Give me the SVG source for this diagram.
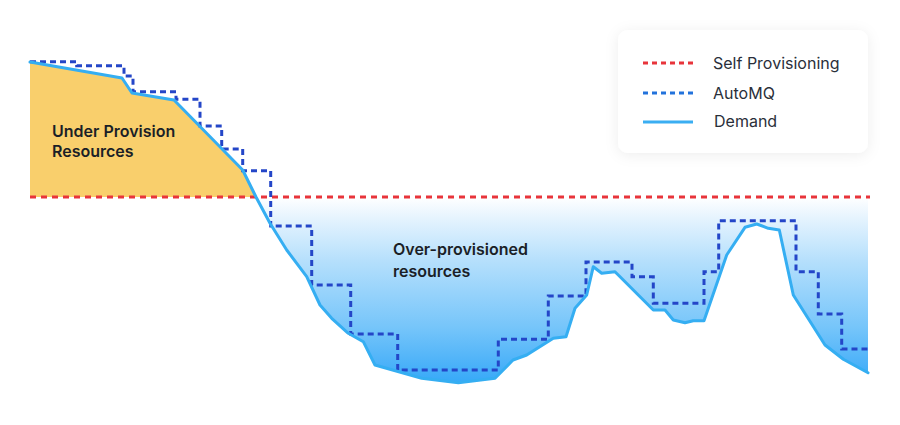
<svg xmlns="http://www.w3.org/2000/svg" width="900" height="425" viewBox="0 0 900 425">
  <defs>
    <linearGradient id="overGrad" gradientUnits="userSpaceOnUse" x1="0" y1="197" x2="0" y2="383">
      <stop offset="0" stop-color="#ffffff"/>
      <stop offset="0.12" stop-color="#e4f3fe"/>
      <stop offset="0.35" stop-color="#b4dffc"/>
      <stop offset="0.7" stop-color="#76c5fa"/>
      <stop offset="1" stop-color="#36a8f8"/>
    </linearGradient>
    <filter id="shadow" x="-20%" y="-30%" width="140%" height="160%">
      <feDropShadow dx="0" dy="2" stdDeviation="7" flood-color="#000000" flood-opacity="0.07"/>
    </filter>
  </defs>
  <style>
    .demand { fill: none; stroke: #35aef2; stroke-width: 3; stroke-linejoin: round; stroke-linecap: round; }
    .automq { fill: none; stroke: #2446c8; stroke-width: 3; stroke-dasharray: 6 4; }
    .self { fill: none; stroke: #e8343b; stroke-width: 3; stroke-dasharray: 6 5; }
    .label { font-family: Inter, "Liberation Sans", sans-serif; font-size: 16px; font-weight: 600; fill: #1b1f27; }
    .legend-text { font-family: Inter, "Liberation Sans", sans-serif; font-size: 16px; font-weight: 400; fill: #2a2f3a; }
  </style>
  <rect width="900" height="425" fill="#ffffff"/>

  <g id="areas">
    <path id="under-area" fill="#f9cf6c" d="M30,62 L122,78 L132,93 L174,100 L242.7,170 L256,197 L30,197 Z"/>
    <path id="over-area" fill="url(#overGrad)" d="M256,197 L270,223.3 L286.7,250 L306.7,276.7 L320,305 L331.7,318.3 L348.3,333.3 L363.3,341.7 L375,365 L421.7,378.3 L458.3,382.7 L495,378.3 L513,360 L526.7,355 L553.3,338.3 L566,336.7 L575,308.3 L586.7,295 L593.3,266.7 L601.7,273.3 L615,271.7 L653.3,310 L665,310 L673.3,320 L685,322.7 L693.3,320.7 L704,320.7 L726.7,255 L745,227.3 L756.7,224 L768.3,228.3 L779.3,230 L793.3,295 L825,345 L843.3,359.3 L868,372.7 L868,197 Z"/>
  </g>

  <g id="connectors">
    <line id="self-provisioning" class="self" x1="30" y1="197" x2="870" y2="197"/>
    <path id="automq" class="automq" d="M30,61.7 H76.7 V65.7 H124 V76 H133 V91.7 H176 V99.3 H200 V126 H221.7 V149 H242.7 V170.7 H270.7 V226 H311.7 V285 H350.7 V334 H397.7 V370 H498.3 V339.3 H548.3 V296 H586 V262 H632 V276.7 H653.3 V303.3 H704 V271.7 H718.7 V220.7 H796 V271.7 H818.3 V314 H841.7 V349 H868"/>
    <path id="demand" class="demand" d="M30,62 L122,78 L132,93 L174,100 L242.7,170 L256,197 L270,223.3 L286.7,250 L306.7,276.7 L320,305 L331.7,318.3 L348.3,333.3 L363.3,341.7 L375,365 L421.7,378.3 L458.3,382.7 L495,378.3 L513,360 L526.7,355 L553.3,338.3 L566,336.7 L575,308.3 L586.7,295 L593.3,266.7 L601.7,273.3 L615,271.7 L653.3,310 L665,310 L673.3,320 L685,322.7 L693.3,320.7 L704,320.7 L726.7,255 L745,227.3 L756.7,224 L768.3,228.3 L779.3,230 L793.3,295 L825,345 L843.3,359.3 L868,372.7"/>
  </g>

  <g id="under-label">
    <text class="label" x="52" y="137">Under Provision</text>
    <text class="label" x="52" y="157">Resources</text>
  </g>

  <g id="over-label">
    <text class="label" x="393" y="255" font-weight="500">Over-provisioned</text>
    <text class="label" x="393" y="277" font-weight="500">resources</text>
  </g>

  <g id="legend">
    <rect x="618" y="30" width="250" height="123" rx="10" fill="#ffffff" filter="url(#shadow)"/>
    <line x1="643" y1="63" x2="693" y2="63" stroke="#e8343b" stroke-width="3" stroke-dasharray="5 4"/>
    <text class="legend-text" x="713" y="69">Self Provisioning</text>
    <line x1="643" y1="93" x2="693" y2="93" stroke="#2272dc" stroke-width="3" stroke-dasharray="5 4"/>
    <text class="legend-text" x="713" y="99">AutoMQ</text>
    <line x1="643" y1="122" x2="693" y2="122" stroke="#3aaef2" stroke-width="3"/>
    <text class="legend-text" x="714" y="127">Demand</text>
  </g>
</svg>
